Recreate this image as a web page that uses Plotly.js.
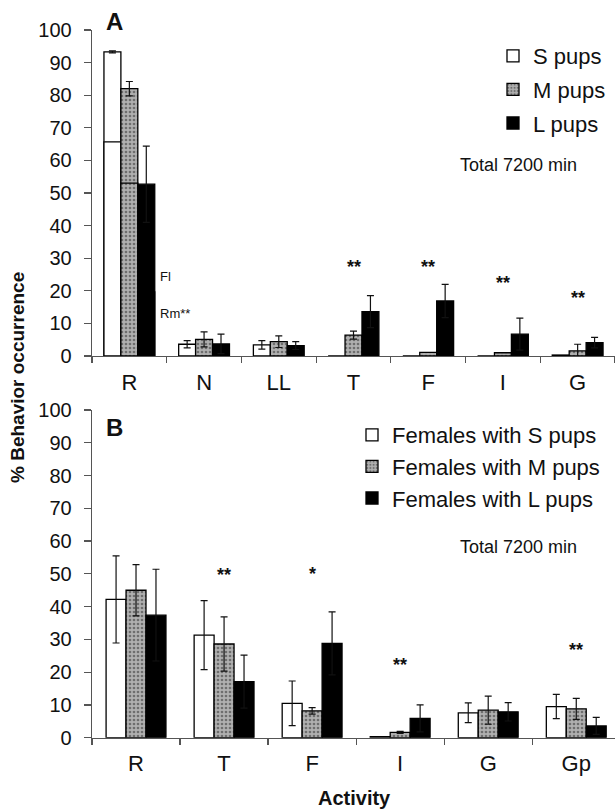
<!DOCTYPE html>
<html>
<head>
<meta charset="utf-8">
<script src="https://cdn.plot.ly/plotly-3.0.1.min.js"></script>
<style>html,body{margin:0;padding:0;background:#fff;}#chart{width:615px;height:810px;}</style>
</head>
<body>
<div id="chart"></div>
<script>
// ---------- Panel A data ----------
const catsA = ['R', 'N', 'LL', 'T', 'F', 'I', 'G'];
const sPupsA = [93.3, 3.6, 3.4, 0, 0, 0, 0.3];
const sPupsAerr = [0.3, 1.1, 1.3, null, null, null, null];
const mPupsA = [82.0, 5.1, 4.4, 6.4, 1.1, 1.0, 1.6];
const mPupsAerr = [2.2, 2.3, 1.8, 1.2, null, null, 2.0];
const lPupsA = [52.7, 3.7, 3.2, 13.6, 16.9, 6.7, 4.1];
const lPupsAerr = [11.7, 3.0, 1.2, 4.9, 5.1, 4.9, 1.6];
// part of R that is Rm (rest is Fl), for S, M, L pups
const restRmA = [65.7, 53.0, 19.7];
const namesA = ['S pups', 'M pups', 'L pups'];

// ---------- Panel B data ----------
const catsB = ['R', 'T', 'F', 'I', 'G', 'Gp'];
const sFemB = [42.2, 31.3, 10.5, 0.3, 7.6, 9.5];
const sFemBerr = [13.3, 10.5, 6.8, null, 3.0, 3.7];
const mFemB = [45.0, 28.6, 8.2, 1.6, 8.4, 8.8];
const mFemBerr = [7.8, 8.3, 1.0, 0.3, 4.3, 3.2];
const lFemB = [37.4, 17.1, 28.8, 5.9, 7.9, 3.6];
const lFemBerr = [14.0, 8.1, 9.6, 4.1, 2.8, 2.6];
const namesB = ['Females with S pups', 'Females with M pups', 'Females with L pups'];

const sigA = ['T', 'F', 'I', 'G'];
const sigAtext = ['**', '**', '**', '**'];
const sigB = ['T', 'F', 'I', 'Gp'];
const sigBtext = ['**', '*', '**', '**'];

// ---------- styles ----------
const W = 615, H = 810;
const px = v => v / W;
const py = v => 1 - v / H;
const FONT = 'Arial, "Liberation Sans", sans-serif';
const toErr = a => a.map(v => (v === null ? NaN : v));

const styles = [
  {color: '#ffffff'},
  {color: '#a0a0a0', pattern: {shape: '.', bgcolor: '#b0b0b0', fgcolor: '#6e6e6e', size: 4, solidity: 0.35}},
  {color: '#000000'}
];
function mk(i) {
  const m = {color: styles[i].color, line: {color: '#000', width: 1.3}};
  if (styles[i].pattern) m.pattern = styles[i].pattern;
  return m;
}
function errObj(arr) {
  return {type: 'data', array: toErr(arr), visible: true, color: '#111', thickness: 1.2, width: 3.5};
}

const traces = [];
const seriesA = [sPupsA, mPupsA, lPupsA];
const errA = [sPupsAerr, mPupsAerr, lPupsAerr];
seriesA.forEach((vals, i) => {
  traces.push({
    type: 'bar', x: catsA, y: vals, name: namesA[i], xaxis: 'x', yaxis: 'y',
    offsetgroup: 'A' + i, legendgroup: 'A' + i, legend: 'legend',
    marker: mk(i), error_y: errObj(errA[i]), hoverinfo: 'x+y'
  });
  // Rm portion of R drawn in the same slot, showing the Rm/Fl split
  traces.push({
    type: 'bar', x: [catsA[0]], y: [restRmA[i]], name: namesA[i] + ' Rm', xaxis: 'x', yaxis: 'y',
    offsetgroup: 'A' + i, showlegend: false, marker: mk(i), hoverinfo: 'x+y'
  });
});
const seriesB = [sFemB, mFemB, lFemB];
const errB = [sFemBerr, mFemBerr, lFemBerr];
seriesB.forEach((vals, i) => {
  traces.push({
    type: 'bar', x: catsB, y: vals, name: namesB[i], xaxis: 'x2', yaxis: 'y2',
    offsetgroup: 'B' + i, legendgroup: 'B' + i, legend: 'legend2',
    marker: mk(i), error_y: errObj(errB[i]), hoverinfo: 'x+y'
  });
});

const axisCommon = {
  showline: true, linecolor: '#555', linewidth: 1.3, ticks: 'outside', tickcolor: '#555',
  showgrid: false, zeroline: false, tickfont: {family: FONT, size: 22, color: '#111'}
};
const xCommon = Object.assign({}, axisCommon, {type: 'category', tickson: 'boundaries', ticklen: 6, tickwidth: 1.2, ticklabelstandoff: 6});
const yCommon = Object.assign({}, axisCommon, {range: [0, 100], dtick: 10, ticklen: 7, tickwidth: 1.2,
  tickfont: {family: FONT, size: 20, color: '#111'}, ticklabelstandoff: 8});

const ann = [];
const txt = (text, x, y, size, opts) => Object.assign({
  text: text, xref: 'paper', yref: 'paper', x: px(x), y: py(y), showarrow: false,
  font: {family: FONT, size: size, color: '#111'}, xanchor: 'center', yanchor: 'middle'
}, opts || {});
ann.push(txt('<b>A</b>', 114, 22, 24));
ann.push(txt('<b>B</b>', 114, 427, 24));
ann.push(txt('Total 7200 min', 518, 165, 18));
ann.push(txt('Total 7200 min', 518, 547, 18));
ann.push(txt('Fl', 158, 277, 13, {xanchor: 'left'}));
ann.push(txt('Rm**', 158, 313, 13, {xanchor: 'left'}));
ann.push(txt('<b>% Behavior occurrence</b>', 17, 378, 19, {textangle: -90}));
ann.push(txt('<b>Activity</b>', 354, 798, 20));
const sigAy = [27.4, 27.4, 22.5, 17.9];
sigA.forEach((c, k) => ann.push({text: '<b>' + sigAtext[k] + '</b>', xref: 'x', yref: 'y', x: c, y: sigAy[k], showarrow: false,
  font: {family: FONT, size: 18, color: '#111'}, xanchor: 'center', yanchor: 'middle'}));
const sigBy = [49.8, 50.1, 22.2, 26.7];
sigB.forEach((c, k) => ann.push({text: '<b>' + sigBtext[k] + '</b>', xref: 'x2', yref: 'y2', x: c, y: sigBy[k], showarrow: false,
  font: {family: FONT, size: 18, color: '#111'}, xanchor: 'center', yanchor: 'middle'}));

const legendCommon = {xanchor: 'left', yanchor: 'top', bgcolor: 'rgba(0,0,0,0)', borderwidth: 0,
  font: {family: FONT, size: 22, color: '#111'}, traceorder: 'grouped', itemclick: false};

const layout = {
  width: W, height: H, margin: {l: 0, r: 0, t: 0, b: 0},
  paper_bgcolor: '#fff', plot_bgcolor: 'rgba(0,0,0,0)',
  barmode: 'group', bargap: 0.32, bargroupgap: 0,
  xaxis: Object.assign({}, xCommon, {domain: [px(92), 1], anchor: 'y', range: [-0.5, 6.5]}),
  yaxis: Object.assign({}, yCommon, {domain: [py(356), py(30)], anchor: 'x'}),
  xaxis2: Object.assign({}, xCommon, {domain: [px(92), 1], anchor: 'y2', range: [-0.5, 5.44]}),
  yaxis2: Object.assign({}, yCommon, {domain: [py(737.7), py(410)], anchor: 'x2'}),
  legend: Object.assign({}, legendCommon, {x: px(493), y: py(35), tracegroupgap: 2}),
  legend2: Object.assign({}, legendCommon, {x: px(352), y: py(414), tracegroupgap: 0}),
  annotations: ann,
  showlegend: true
};

Plotly.newPlot('chart', traces, layout, {staticPlot: true, displayModeBar: false});
</script>
</body>
</html>
